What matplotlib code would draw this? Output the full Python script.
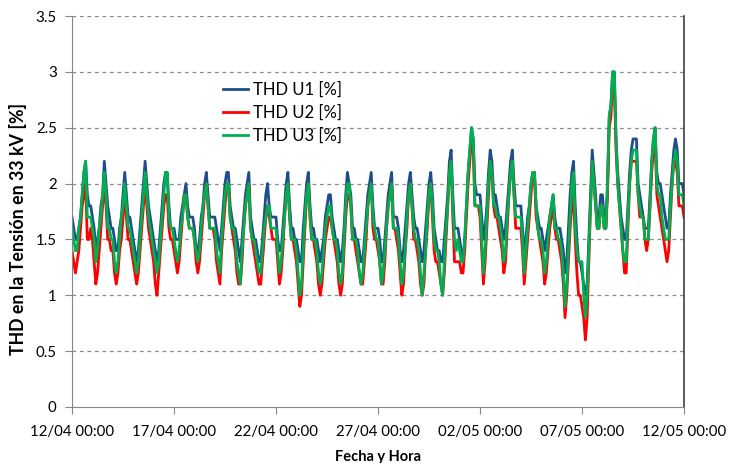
import numpy as np
import matplotlib
matplotlib.use("Agg")
import matplotlib.pyplot as plt

# readings every 2 h (00,02,...,22 h), one row per day, 12/04 -> 11/05, last value = 12/05 00:00
U1_ROWS = [
    [1.7, 1.6, 1.5, 1.5, 1.6, 1.7, 1.9, 2.1, 2.2, 1.9, 1.8, 1.8],
    [1.7, 1.6, 1.4, 1.5, 1.6, 1.8, 1.9, 2.2, 2.0, 1.8, 1.7, 1.6],
    [1.6, 1.5, 1.4, 1.4, 1.6, 1.7, 1.9, 2.1, 1.9, 1.7, 1.7, 1.6],
    [1.5, 1.4, 1.3, 1.4, 1.6, 1.8, 2.0, 2.2, 2.0, 1.8, 1.7, 1.6],
    [1.5, 1.4, 1.3, 1.4, 1.6, 1.8, 2.0, 2.1, 2.1, 1.8, 1.6, 1.6],
    [1.6, 1.5, 1.5, 1.5, 1.7, 1.8, 1.9, 2.0, 1.8, 1.7, 1.7, 1.7],
    [1.6, 1.4, 1.4, 1.5, 1.7, 1.8, 2.0, 2.1, 1.9, 1.7, 1.7, 1.7],
    [1.7, 1.6, 1.5, 1.4, 1.6, 1.8, 2.0, 2.1, 2.1, 1.8, 1.7, 1.6],
    [1.6, 1.5, 1.4, 1.3, 1.5, 1.7, 1.9, 2.0, 2.1, 1.7, 1.6, 1.5],
    [1.5, 1.4, 1.3, 1.3, 1.5, 1.7, 1.9, 2.0, 1.8, 1.7, 1.7, 1.7],
    [1.7, 1.5, 1.4, 1.4, 1.6, 1.8, 2.0, 2.1, 1.8, 1.6, 1.6, 1.5],
    [1.5, 1.4, 1.3, 1.3, 1.6, 1.8, 2.0, 2.1, 1.8, 1.6, 1.6, 1.5],
    [1.5, 1.4, 1.3, 1.4, 1.5, 1.7, 1.8, 1.9, 1.9, 1.7, 1.6, 1.5],
    [1.5, 1.4, 1.3, 1.4, 1.6, 1.9, 2.1, 2.0, 1.9, 1.6, 1.6, 1.5],
    [1.5, 1.4, 1.3, 1.3, 1.5, 1.7, 1.9, 2.0, 2.1, 1.8, 1.6, 1.6],
    [1.6, 1.5, 1.3, 1.3, 1.5, 1.7, 1.9, 2.0, 2.1, 1.7, 1.7, 1.7],
    [1.6, 1.4, 1.3, 1.4, 1.6, 1.8, 2.0, 2.1, 1.9, 1.7, 1.6, 1.6],
    [1.5, 1.4, 1.3, 1.4, 1.6, 1.8, 2.0, 2.1, 1.9, 1.6, 1.5, 1.4],
    [1.4, 1.3, 1.3, 1.5, 1.7, 1.9, 2.2, 2.3, 1.9, 1.6, 1.6, 1.6],
    [1.5, 1.4, 1.3, 1.5, 1.8, 2.1, 2.3, 2.5, 2.4, 2.0, 1.9, 1.9],
    [1.9, 1.7, 1.5, 1.6, 1.8, 2.1, 2.3, 2.2, 1.9, 1.9, 1.8, 1.7],
    [1.7, 1.6, 1.5, 1.6, 1.8, 2.0, 2.2, 2.3, 2.0, 1.8, 1.8, 1.8],
    [1.8, 1.6, 1.4, 1.5, 1.7, 1.8, 2.0, 2.1, 2.1, 1.8, 1.7, 1.6],
    [1.6, 1.5, 1.4, 1.5, 1.6, 1.7, 1.8, 1.9, 1.7, 1.6, 1.6, 1.6],
    [1.5, 1.4, 1.2, 1.3, 1.6, 1.9, 2.1, 2.2, 1.8, 1.5, 1.3, 1.3],
    [1.2, 1.1, 1.0, 1.1, 1.5, 1.9, 2.3, 2.1, 1.9, 1.6, 1.7, 1.9],
    [1.9, 1.7, 1.6, 2.0, 2.6, 2.7, 3.0, 3.0, 2.4, 2.1, 1.9, 1.7],
    [1.6, 1.5, 1.5, 1.8, 2.1, 2.3, 2.4, 2.4, 2.4, 2.0, 1.9, 1.8],
    [1.7, 1.6, 1.6, 1.6, 1.9, 2.2, 2.4, 2.5, 2.1, 2.0, 2.0, 1.9],
    [1.8, 1.7, 1.6, 1.6, 1.9, 2.1, 2.3, 2.4, 2.3, 2.0, 2.0, 2.0],
]
U1_END = 1.9

U2_ROWS = [
    [1.4, 1.3, 1.2, 1.3, 1.4, 1.6, 1.8, 1.9, 2.0, 1.5, 1.5, 1.6],
    [1.5, 1.3, 1.1, 1.2, 1.4, 1.6, 1.8, 2.0, 1.8, 1.5, 1.5, 1.4],
    [1.4, 1.2, 1.1, 1.2, 1.4, 1.5, 1.7, 1.9, 1.7, 1.5, 1.5, 1.4],
    [1.3, 1.2, 1.1, 1.2, 1.4, 1.6, 1.8, 2.0, 1.8, 1.6, 1.5, 1.4],
    [1.3, 1.1, 1.0, 1.2, 1.4, 1.6, 1.8, 1.9, 1.9, 1.6, 1.5, 1.5],
    [1.4, 1.3, 1.2, 1.3, 1.5, 1.7, 1.9, 1.9, 1.7, 1.6, 1.6, 1.6],
    [1.5, 1.3, 1.2, 1.3, 1.5, 1.7, 1.9, 2.0, 1.8, 1.6, 1.6, 1.6],
    [1.5, 1.3, 1.2, 1.1, 1.4, 1.6, 1.8, 2.0, 2.0, 1.7, 1.6, 1.5],
    [1.4, 1.2, 1.1, 1.1, 1.3, 1.6, 1.8, 1.9, 2.0, 1.6, 1.5, 1.4],
    [1.3, 1.2, 1.1, 1.1, 1.3, 1.5, 1.7, 1.8, 1.7, 1.6, 1.5, 1.5],
    [1.5, 1.3, 1.1, 1.2, 1.4, 1.7, 1.9, 2.0, 1.7, 1.5, 1.5, 1.4],
    [1.3, 1.1, 0.9, 1.0, 1.3, 1.6, 1.9, 2.0, 1.7, 1.5, 1.5, 1.4],
    [1.3, 1.1, 1.0, 1.1, 1.3, 1.5, 1.6, 1.7, 1.7, 1.6, 1.5, 1.4],
    [1.3, 1.1, 1.0, 1.1, 1.4, 1.7, 1.9, 1.9, 1.8, 1.5, 1.5, 1.4],
    [1.3, 1.2, 1.1, 1.1, 1.3, 1.5, 1.8, 1.9, 2.0, 1.6, 1.5, 1.5],
    [1.4, 1.3, 1.1, 1.1, 1.3, 1.6, 1.8, 1.9, 2.0, 1.6, 1.6, 1.5],
    [1.4, 1.2, 1.0, 1.1, 1.4, 1.6, 1.9, 2.0, 1.8, 1.5, 1.5, 1.4],
    [1.3, 1.1, 1.0, 1.1, 1.4, 1.6, 1.9, 2.0, 1.7, 1.4, 1.3, 1.3],
    [1.2, 1.1, 1.0, 1.2, 1.5, 1.8, 2.1, 2.2, 1.7, 1.3, 1.3, 1.3],
    [1.3, 1.2, 1.2, 1.4, 1.7, 2.0, 2.2, 2.4, 2.3, 1.8, 1.8, 1.8],
    [1.7, 1.4, 1.1, 1.3, 1.6, 1.9, 2.2, 2.1, 1.8, 1.7, 1.7, 1.6],
    [1.5, 1.4, 1.2, 1.3, 1.6, 1.9, 2.1, 2.2, 1.9, 1.6, 1.6, 1.6],
    [1.6, 1.4, 1.1, 1.3, 1.5, 1.7, 1.9, 2.1, 2.1, 1.7, 1.6, 1.5],
    [1.4, 1.3, 1.1, 1.2, 1.4, 1.6, 1.7, 1.8, 1.6, 1.5, 1.5, 1.4],
    [1.3, 1.1, 0.8, 1.0, 1.3, 1.6, 1.8, 1.9, 1.5, 1.2, 1.0, 1.0],
    [0.9, 0.8, 0.6, 0.8, 1.3, 1.8, 2.2, 2.0, 1.8, 1.6, 1.6, 1.8],
    [1.8, 1.6, 1.6, 1.9, 2.5, 2.6, 2.9, 2.9, 2.3, 2.0, 1.8, 1.6],
    [1.4, 1.2, 1.2, 1.6, 2.0, 2.2, 2.2, 2.2, 2.2, 1.9, 1.7, 1.7],
    [1.7, 1.5, 1.4, 1.5, 1.8, 2.1, 2.3, 2.4, 1.9, 1.8, 1.7, 1.6],
    [1.5, 1.4, 1.3, 1.4, 1.7, 2.0, 2.2, 2.2, 2.1, 1.8, 1.8, 1.8],
]
U2_END = 1.7

U3_ROWS = [
    [1.6, 1.5, 1.4, 1.4, 1.6, 1.7, 1.9, 2.1, 2.2, 1.7, 1.7, 1.7],
    [1.6, 1.5, 1.3, 1.4, 1.6, 1.7, 1.9, 2.1, 1.9, 1.6, 1.6, 1.5],
    [1.5, 1.3, 1.2, 1.3, 1.5, 1.7, 1.8, 2.0, 1.8, 1.6, 1.6, 1.5],
    [1.4, 1.3, 1.2, 1.3, 1.5, 1.7, 1.9, 2.1, 1.9, 1.7, 1.6, 1.5],
    [1.4, 1.3, 1.2, 1.3, 1.5, 1.7, 1.9, 2.1, 2.1, 1.7, 1.6, 1.6],
    [1.5, 1.4, 1.3, 1.4, 1.6, 1.7, 1.9, 1.9, 1.7, 1.6, 1.6, 1.6],
    [1.5, 1.4, 1.3, 1.4, 1.6, 1.8, 1.9, 2.0, 1.8, 1.6, 1.6, 1.6],
    [1.6, 1.4, 1.3, 1.2, 1.5, 1.7, 1.9, 2.0, 2.0, 1.7, 1.6, 1.6],
    [1.5, 1.3, 1.2, 1.1, 1.4, 1.6, 1.8, 1.9, 2.0, 1.6, 1.5, 1.5],
    [1.4, 1.3, 1.2, 1.2, 1.4, 1.6, 1.7, 1.8, 1.8, 1.6, 1.6, 1.6],
    [1.6, 1.4, 1.2, 1.3, 1.5, 1.7, 1.9, 2.0, 1.7, 1.5, 1.5, 1.5],
    [1.4, 1.2, 1.0, 1.1, 1.4, 1.7, 1.9, 2.0, 1.7, 1.5, 1.5, 1.5],
    [1.4, 1.2, 1.1, 1.2, 1.4, 1.6, 1.7, 1.8, 1.8, 1.6, 1.5, 1.5],
    [1.4, 1.2, 1.1, 1.2, 1.5, 1.8, 2.0, 2.0, 1.8, 1.5, 1.5, 1.5],
    [1.4, 1.2, 1.1, 1.2, 1.4, 1.6, 1.8, 1.9, 2.0, 1.7, 1.6, 1.5],
    [1.5, 1.3, 1.1, 1.2, 1.4, 1.6, 1.8, 1.9, 2.0, 1.6, 1.6, 1.6],
    [1.5, 1.3, 1.1, 1.2, 1.4, 1.7, 1.9, 2.0, 1.8, 1.6, 1.5, 1.5],
    [1.4, 1.2, 1.0, 1.2, 1.4, 1.7, 1.9, 2.0, 1.8, 1.5, 1.4, 1.4],
    [1.3, 1.1, 1.0, 1.3, 1.6, 1.8, 2.1, 2.2, 1.8, 1.5, 1.4, 1.5],
    [1.4, 1.3, 1.3, 1.5, 1.8, 2.1, 2.3, 2.5, 2.4, 1.8, 1.8, 1.8],
    [1.8, 1.5, 1.2, 1.4, 1.7, 2.0, 2.2, 2.1, 1.8, 1.8, 1.7, 1.7],
    [1.6, 1.5, 1.3, 1.4, 1.7, 1.9, 2.1, 2.2, 1.9, 1.7, 1.7, 1.7],
    [1.7, 1.5, 1.2, 1.4, 1.6, 1.8, 2.0, 2.1, 2.1, 1.8, 1.6, 1.5],
    [1.5, 1.4, 1.2, 1.3, 1.5, 1.7, 1.8, 1.9, 1.6, 1.6, 1.5, 1.5],
    [1.4, 1.2, 0.9, 1.1, 1.4, 1.7, 2.0, 2.1, 1.6, 1.4, 1.3, 1.3],
    [1.3, 1.0, 0.8, 1.0, 1.4, 1.8, 2.2, 2.0, 1.8, 1.6, 1.6, 1.8],
    [1.8, 1.6, 1.6, 2.0, 2.6, 2.7, 3.0, 3.0, 2.4, 2.0, 1.8, 1.6],
    [1.4, 1.3, 1.3, 1.7, 2.0, 2.2, 2.3, 2.3, 2.3, 1.9, 1.8, 1.7],
    [1.7, 1.5, 1.5, 1.5, 1.8, 2.2, 2.4, 2.5, 2.0, 1.9, 1.9, 1.7],
    [1.6, 1.5, 1.5, 1.5, 1.8, 2.0, 2.2, 2.3, 2.2, 1.9, 1.9, 1.9],
]
U3_END = 1.8

SERIES_NAMES = ["THD U1 [%]", "THD U2 [%]", "THD U3 [%]"]
SERIES_COLORS = ["#1F4E8C", "#FF0000", "#00B050"]
X_TICK_DAYS = [0, 5, 10, 15, 20, 25, 30]
X_TICK_LABELS = ["12/04 00:00", "17/04 00:00", "22/04 00:00", "27/04 00:00",
                 "02/05 00:00", "07/05 00:00", "12/05 00:00"]
Y_TICKS = [0, 0.5, 1, 1.5, 2, 2.5, 3, 3.5]
Y_TICK_LABELS = ["0", "0.5", "1", "1.5", "2", "2.5", "3", "3.5"]

plt.rcParams['font.family'] = ['Lato', 'DejaVu Sans']

u1 = np.append(np.ravel(U1_ROWS), U1_END)
u2 = np.append(np.ravel(U2_ROWS), U2_END)
u3 = np.append(np.ravel(U3_ROWS), U3_END)
t = np.arange(len(u1)) * 2.0 / 24.0   # days since 12/04 00:00

fig = plt.figure(figsize=(7.29, 4.63), dpi=100)
ax = fig.add_axes([0.0988, 0.121, 0.8395, 0.8444])

for vals, name, col in zip([u1, u2, u3], SERIES_NAMES, SERIES_COLORS):
    ax.plot(t, vals, color=col, lw=2.0, label=name)

ax.set_xlim(0, 30)
ax.set_ylim(0, 3.5)
ax.set_xticks(X_TICK_DAYS)
ax.set_xticklabels(X_TICK_LABELS, fontsize=10.8)
ax.set_yticks(Y_TICKS)
ax.set_yticklabels(Y_TICK_LABELS, fontsize=10.8)
ax.tick_params(axis='x', direction='out', length=5, color='#868686', pad=8)
ax.tick_params(axis='y', direction='out', length=5, color='#868686', pad=6)

for y in Y_TICKS[1:]:
    ax.axhline(y, color='#8c8c8c', lw=0.9, ls=(0, (3, 3)), zorder=0)

ax.spines['top'].set_visible(False)
ax.spines['left'].set_color('#868686')
ax.spines['bottom'].set_color('#868686')
ax.spines['right'].set_color('#404040')
ax.spines['right'].set_linewidth(1.2)

ax.set_xlabel("Fecha y Hora", fontsize=10.5, fontweight='bold', labelpad=8)
ax.set_ylabel("THD en la Tensión en 33 kV [%]", fontsize=12.8, fontweight='bold')
ax.yaxis.set_label_coords(-0.074, 0.455)

leg = ax.legend(loc='upper left', bbox_to_anchor=(0.222, 0.87), frameon=False,
                fontsize=12, handlelength=1.5, handletextpad=0.3, labelspacing=0.4)

fig.savefig("out.png", dpi=100)
